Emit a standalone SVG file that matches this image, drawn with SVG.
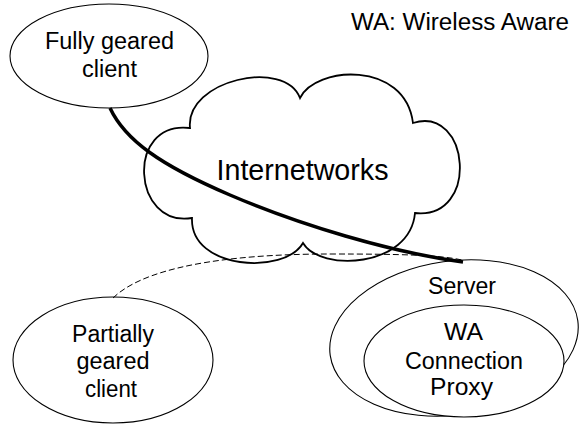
<svg xmlns="http://www.w3.org/2000/svg" width="579" height="425" viewBox="0 0 579 425">
<style>
.bg{fill:#ffffff}
.node{fill:#ffffff;stroke:#000000;stroke-width:1.1}
.cloud{fill:#ffffff;stroke:#000000;stroke-width:1.8}
.lbl{font-family:"Liberation Sans",Arial,sans-serif;font-size:23px;fill:#000000;text-anchor:middle}
.big{font-size:29px}
.thick{fill:none;stroke:#000000;stroke-width:3.5;stroke-linecap:butt}
.dash{fill:none;stroke:#000000;stroke-width:1;stroke-dasharray:6 3}
</style>
<rect class="bg" x="0" y="0" width="579" height="425"/>
<g id="cloud-internetworks">
<path class="cloud" d="M190,128 C185,80 285,58 300,98 C315,66 405,60 413,123 C470,105 480,220 415,213 C410,268 320,272 303,243 C285,275 190,270 192,218 C132,228 125,120 190,128 Z"/>
<text class="lbl big" x="302.5" y="180" textLength="172" lengthAdjust="spacingAndGlyphs">Internetworks</text>
</g>
<g id="node-fully">
<ellipse class="node" cx="109" cy="56" rx="99" ry="52"/>
<text class="lbl" x="109.5" y="49" textLength="129" lengthAdjust="spacingAndGlyphs">Fully geared</text>
<text class="lbl" x="109.5" y="77" textLength="55" lengthAdjust="spacingAndGlyphs">client</text>
</g>
<g id="node-partially">
<ellipse class="node" cx="113" cy="360" rx="100" ry="63"/>
<text class="lbl" x="113" y="342" textLength="82" lengthAdjust="spacingAndGlyphs">Partially</text>
<text class="lbl" x="113" y="369" textLength="73" lengthAdjust="spacingAndGlyphs">geared</text>
<text class="lbl" x="111" y="397" textLength="52" lengthAdjust="spacingAndGlyphs">client</text>
</g>
<g id="node-server">
<ellipse class="node" cx="454" cy="338" rx="125" ry="77" transform="rotate(-8 454 338)"/>
<text class="lbl" x="462" y="294" textLength="68" lengthAdjust="spacingAndGlyphs">Server</text>
</g>
<g id="node-proxy">
<ellipse class="node" cx="464" cy="361" rx="100" ry="56"/>
<text class="lbl" x="463.5" y="340" textLength="39" lengthAdjust="spacingAndGlyphs">WA</text>
<text class="lbl" x="464" y="369" textLength="118" lengthAdjust="spacingAndGlyphs">Connection</text>
<text class="lbl" x="461.5" y="395" textLength="63" lengthAdjust="spacingAndGlyphs">Proxy</text>
</g>
<g id="connectors">
<path class="thick" d="M110,108 C125,140 160,165 230,195 C300,225 390,252 463,262"/>
<path class="dash" d="M113,298 C150,262 250,254 330,254 C400,254 440,255 462,260"/>
</g>
<g id="legend">
<text class="lbl" x="460" y="30" textLength="218" lengthAdjust="spacingAndGlyphs">WA: Wireless Aware</text>
</g>
</svg>
